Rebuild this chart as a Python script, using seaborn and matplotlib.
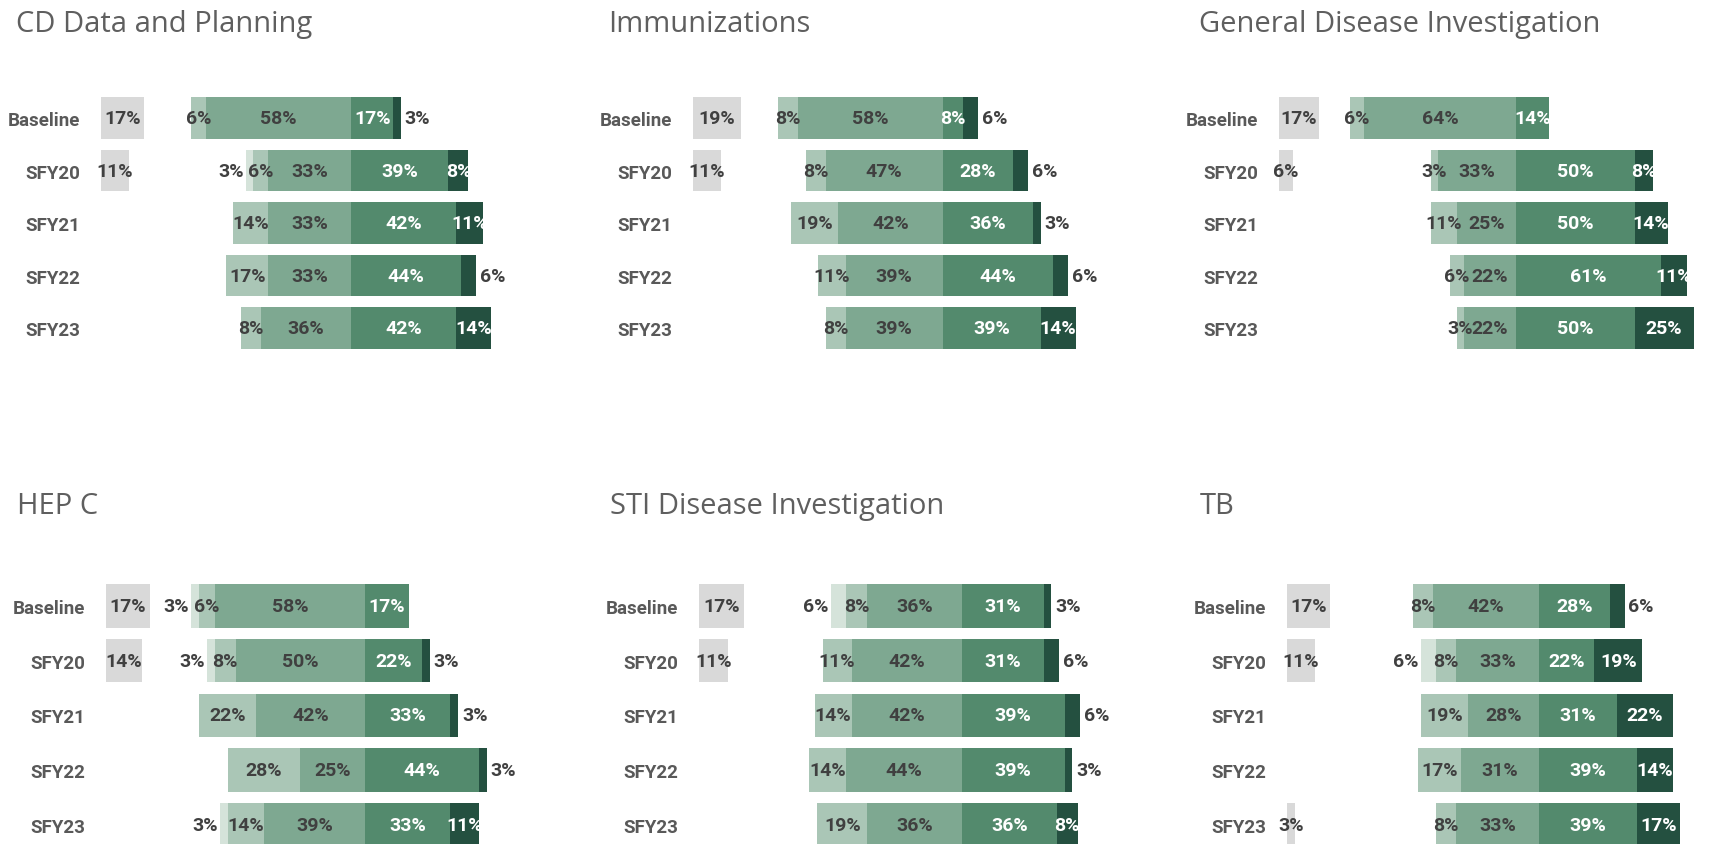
import numpy as np
import pandas as pd
import seaborn as sns
import matplotlib.pyplot as plt

# rows: Baseline, SFY20..SFY23 ; columns: N/A, very low, low, mid, high, very high (%)
rows = ["Baseline", "SFY20", "SFY21", "SFY22", "SFY23"]
cols = ["na", "c1", "c2", "c3", "c4", "c5"]

cd_data = [[17, 0, 6, 58, 17, 3],
           [11, 3, 6, 33, 39, 8],
           [0, 0, 14, 33, 42, 11],
           [0, 0, 17, 33, 44, 6],
           [0, 0, 8, 36, 42, 14]]
imm_data = [[19, 0, 8, 58, 8, 6],
            [11, 0, 8, 47, 28, 6],
            [0, 0, 19, 42, 36, 3],
            [0, 0, 11, 39, 44, 6],
            [0, 0, 8, 39, 39, 14]]
gdi_data = [[17, 0, 6, 64, 14, 0],
            [6, 0, 3, 33, 50, 8],
            [0, 0, 11, 25, 50, 14],
            [0, 0, 6, 22, 61, 11],
            [0, 0, 3, 22, 50, 25]]
hepc_data = [[17, 3, 6, 58, 17, 0],
             [14, 3, 8, 50, 22, 3],
             [0, 0, 22, 42, 33, 3],
             [0, 0, 28, 25, 44, 3],
             [0, 3, 14, 39, 33, 11]]
sti_data = [[17, 6, 8, 36, 31, 3],
            [11, 0, 11, 42, 31, 6],
            [0, 0, 14, 42, 39, 6],
            [0, 0, 14, 44, 39, 3],
            [0, 0, 19, 36, 36, 8]]
tb_data = [[17, 0, 8, 42, 28, 6],
           [11, 6, 8, 33, 22, 19],
           [0, 0, 19, 28, 31, 22],
           [0, 0, 17, 31, 39, 14],
           [3, 0, 8, 33, 39, 17]]

titles = ["CD Data and Planning", "Immunizations", "General Disease Investigation",
          "HEP C", "STI Disease Investigation", "TB"]
datasets = [cd_data, imm_data, gdi_data, hepc_data, sti_data, tb_data]

colors = {"na": "#d9d9d9", "c1": "#d5e3da", "c2": "#aac6b6", "c3": "#7ea891",
          "c4": "#538a6d", "c5": "#245040"}
dark = "#404040"

sns.set_theme(style="white")
plt.rcParams["font.family"] = ["Roboto", "DejaVu Sans"]

W, H = 1723, 845
fig = plt.figure(figsize=(W / 100, H / 100), dpi=100)

# pixel layout: (axes left px = -100%, centre px = 0%)
panel_x = [(101, 351), (693, 943), (1279, 1516), (106, 365), (699, 962), (1287, 1539)]
row_top = [(119, 52.5), (607, 54.7)]
title_pos = [(16, 32), (608, 32), (1199, 32), (17, 514), (610, 514), (1200, 514)]
XMAX = 85

for i, (title, data) in enumerate(zip(titles, datasets)):
    df = pd.DataFrame(data, columns=cols, index=rows)
    left_px, centre_px = panel_x[i]
    scale = (centre_px - left_px) / 100.0
    first_y, step = row_top[i // 3]
    top_px = first_y - step / 2
    ax = fig.add_axes([left_px / W, 1 - (top_px + 5 * step) / H,
                       (100 + XMAX) * scale / W, 5 * step / H])
    y = np.arange(len(rows))
    bh = 0.79

    # N/A bar anchored at -100
    ax.barh(y, df["na"], left=-100, height=bh, color=colors["na"], linewidth=0)
    # diverging: c1..c3 left of zero, c4..c5 right of zero
    starts = {
        "c1": -(df["c1"] + df["c2"] + df["c3"]),
        "c2": -(df["c2"] + df["c3"]),
        "c3": -df["c3"],
        "c4": 0 * df["c4"],
        "c5": df["c4"],
    }
    for c in ["c1", "c2", "c3", "c4", "c5"]:
        ax.barh(y, df[c], left=starts[c], height=bh, color=colors[c], linewidth=0)

    lab = dict(fontsize=14, fontweight="bold", va="center", clip_on=False)
    for j, r in enumerate(rows):
        v = df.loc[r]
        if v["na"] > 0:
            ax.text(-100 + v["na"] / 2, j, f"{v['na']}%", ha="center", color=dark, **lab)
        if v["c1"] > 0:
            ax.text(starts["c1"].iloc[j] - 0.8, j, f"{v['c1']}%", ha="right", color=dark, **lab)
        for c in ["c2", "c3"]:
            if v[c] > 0:
                ax.text(starts[c].iloc[j] + v[c] / 2, j, f"{v[c]}%", ha="center", color=dark, **lab)
        if v["c4"] > 0:
            ax.text(v["c4"] / 2, j, f"{v['c4']}%", ha="center", color="white", **lab)
        if v["c5"] > 6:
            ax.text(v["c4"] + v["c5"] / 2, j, f"{v['c5']}%", ha="center", color="white", **lab)
        elif v["c5"] > 0:
            ax.text(v["c4"] + v["c5"] + 1.5, j, f"{v['c5']}%", ha="left", color=dark, **lab)

    ax.set_xlim(-100, XMAX)
    ax.set_ylim(len(rows) - 0.5, -0.5)
    ax.set_yticks(y)
    ax.set_yticklabels(rows, fontsize=13.5, fontweight="bold", color="#595959")
    ax.tick_params(axis="y", length=0, pad=15)
    ax.set_xticks([])
    sns.despine(ax=ax, left=True, bottom=True)

    tx, ty = title_pos[i]
    fig.text(tx / W, 1 - ty / H, title, fontsize=21, color="#5f5f5f",
             family=["Open Sans", "DejaVu Sans"], ha="left", va="baseline")

fig.savefig("out.png", dpi=100, facecolor="white")
